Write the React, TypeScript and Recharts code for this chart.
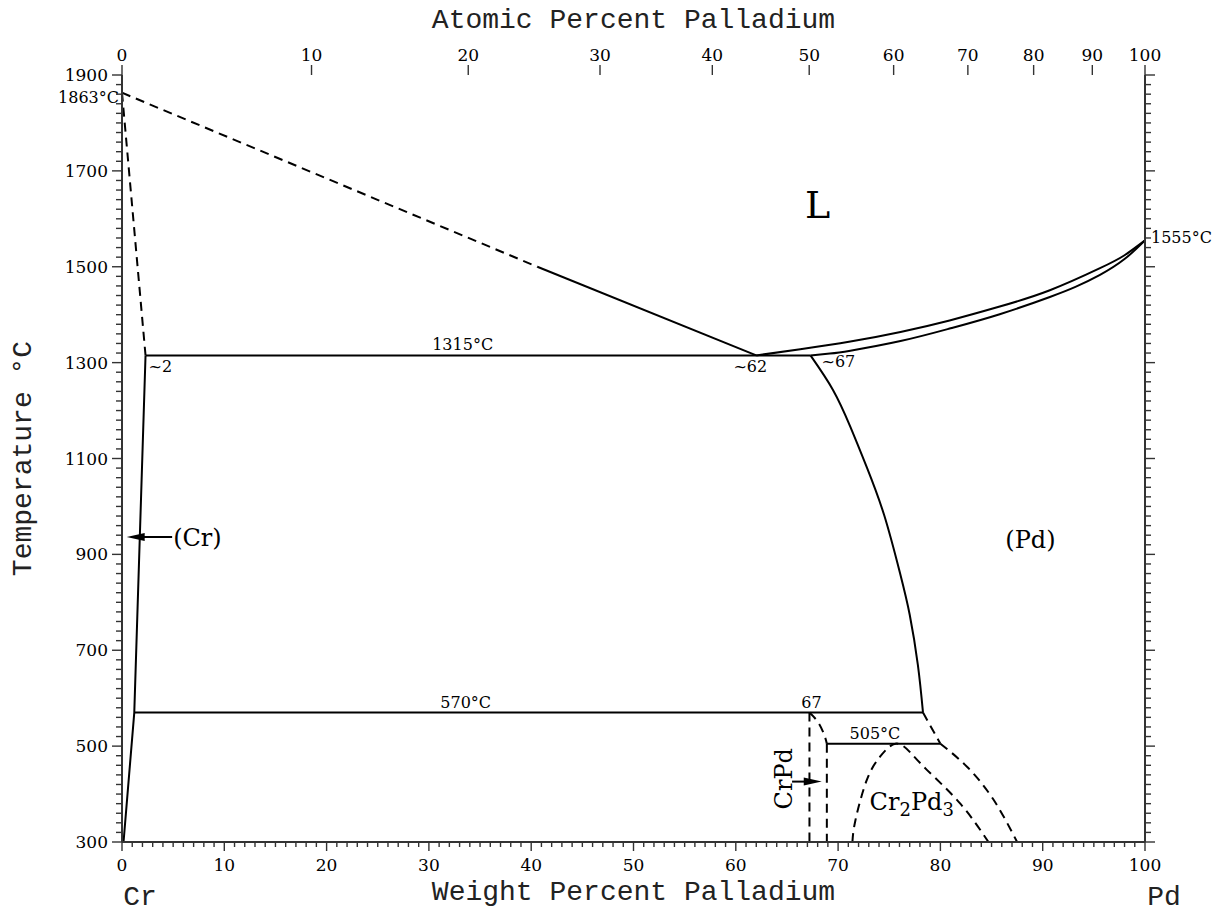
import { ComposedChart, Line, XAxis, YAxis, ReferenceDot } from "recharts";

const INK = "#000";
const AXIS = "#333";
const NUM_FONT = "'DejaVu Serif', serif";
const TITLE_FONT = "'Liberation Mono', monospace";

type Pt = { w: number; t: number };

// phase boundaries, wt.% Pd vs temperature (°C)
const liquidusCrDashed: Pt[] = [{ w: 0, t: 1863 }, { w: 40.6, t: 1500 }];
const liquidusCrSolid: Pt[] = [{ w: 40.6, t: 1500 }, { w: 62, t: 1315 }];
const crSolvusDashed: Pt[] = [{ w: 0, t: 1863 }, { w: 2.3, t: 1315 }];
const crSolvus: Pt[] = [{ w: 2.3, t: 1315 }, { w: 1.2, t: 570 }, { w: 0.15, t: 300 }];
const eutectic1315: Pt[] = [{ w: 2.3, t: 1315 }, { w: 67.3, t: 1315 }];
const liquidusPd: Pt[] = [
  { w: 62, t: 1315 }, { w: 66.3, t: 1328 }, { w: 71.2, t: 1344 }, { w: 76.1, t: 1364 },
  { w: 80.9, t: 1388 }, { w: 85.8, t: 1417 }, { w: 90.7, t: 1451 }, { w: 95.6, t: 1497 },
  { w: 98.0, t: 1524 }, { w: 100, t: 1555 },
];
const solidusPd: Pt[] = [
  { w: 67.3, t: 1315 }, { w: 69.2, t: 1319 }, { w: 71.2, t: 1325 }, { w: 76.1, t: 1345 },
  { w: 80.9, t: 1371 }, { w: 85.8, t: 1401 }, { w: 90.7, t: 1437 }, { w: 93.2, t: 1458 },
  { w: 95.6, t: 1483 }, { w: 98.0, t: 1516 }, { w: 100, t: 1555 },
];
const pdSolvus: Pt[] = [
  { w: 67.3, t: 1315 }, { w: 69.5, t: 1243 }, { w: 71.2, t: 1166 }, { w: 72.8, t: 1082 },
  { w: 74.5, t: 982 }, { w: 76.05, t: 861 }, { w: 77.0, t: 774 }, { w: 77.8, t: 669 },
  { w: 78.3, t: 570 },
];
const eutectoid570: Pt[] = [{ w: 1.2, t: 570 }, { w: 78.3, t: 570 }];
const pdSolvusLow: Pt[] = [{ w: 78.3, t: 570 }, { w: 80.0, t: 505 }];
const pdOrderBound: Pt[] = [{ w: 80.0, t: 505 }, { w: 82.6, t: 457 }, { w: 85.2, t: 388 }, { w: 87.5, t: 300 }];
const peritectoid505: Pt[] = [{ w: 68.9, t: 505 }, { w: 80.0, t: 505 }];
const crPdLeft: Pt[] = [{ w: 67.2, t: 570 }, { w: 67.2, t: 300 }];
const crPdCap: Pt[] = [{ w: 67.2, t: 570 }, { w: 68.1, t: 548 }, { w: 68.7, t: 520 }, { w: 68.9, t: 505 }];
const crPdRight: Pt[] = [{ w: 68.9, t: 505 }, { w: 68.9, t: 300 }];
const cr2pd3Dome: Pt[] = [
  { w: 71.4, t: 300 }, { w: 71.7, t: 346 }, { w: 72.8, t: 429 }, { w: 74.1, t: 478 },
  { w: 75.6, t: 505 }, { w: 77.0, t: 488 }, { w: 78.7, t: 450 }, { w: 81.9, t: 381 },
  { w: 84.7, t: 300 },
];
const arrowCr: Pt[] = [{ w: 4.9, t: 936 }, { w: 1.5, t: 936 }];
const arrowCrPd: Pt[] = [{ w: 65.5, t: 426 }, { w: 67.0, t: 426 }];

const segments: { data: Pt[]; dashed?: boolean; curve?: boolean }[] = [
  { data: liquidusCrDashed, dashed: true },
  { data: liquidusCrSolid },
  { data: crSolvusDashed, dashed: true },
  { data: crSolvus },
  { data: eutectic1315 },
  { data: liquidusPd, curve: true },
  { data: solidusPd, curve: true },
  { data: pdSolvus, curve: true },
  { data: eutectoid570 },
  { data: pdSolvusLow, dashed: true },
  { data: pdOrderBound, dashed: true, curve: true },
  { data: peritectoid505 },
  { data: crPdLeft, dashed: true },
  { data: crPdCap, dashed: true, curve: true },
  { data: crPdRight, dashed: true },
  { data: cr2pd3Dome, dashed: true, curve: true },
  { data: arrowCr },
  { data: arrowCrPd },
];

// arrow heads (tip position, direction)
const arrowHeads = [
  { w: 0.46, t: 936, dir: -1 },
  { w: 68.4, t: 426, dir: 1 },
];

type Note = { w: number; t: number; text: string; dx?: number; dy?: number; anchor?: "start" | "middle" | "end"; size?: number; rotate?: boolean };
const notes: Note[] = [
  { w: 0, t: 1863, text: "1863°C", dx: -3, dy: 10, anchor: "end" },
  { w: 100, t: 1555, text: "1555°C", dx: 6, dy: 3, anchor: "start" },
  { w: 33.3, t: 1315, text: "1315°C", dy: -5 },
  { w: 2.3, t: 1315, text: "~2", dx: 3, dy: 17, anchor: "start" },
  { w: 62, t: 1315, text: "~62", dx: -6, dy: 17 },
  { w: 67.3, t: 1315, text: "~67", dx: 11, dy: 12, anchor: "start" },
  { w: 33.6, t: 570, text: "570°C", dy: -5 },
  { w: 67.2, t: 570, text: "67", dx: 2, dy: -5 },
  { w: 73.6, t: 505, text: "505°C", dy: -5 },
  { w: 68.0, t: 1602, text: "L", size: 38 },
  { w: 5.0, t: 936, text: "(Cr)", dy: 9, anchor: "start", size: 24 },
  { w: 88.8, t: 930, text: "(Pd)", dy: 8, size: 24 },
  { w: 65.5, t: 432, text: "CrPd", size: 24, rotate: true },
];
const phaseLabelCr2Pd3 = { w: 77.2, t: 367 };

const wtTicks = Array.from({ length: 101 }, (_, i) => i);
const tempTicks = Array.from({ length: 81 }, (_, i) => 300 + i * 20);
const atLabels = [0, 10, 20, 30, 40, 50, 60, 70, 80, 90, 100];
const atToWt = (a: number) => (100 * a * 106.42) / (a * 106.42 + (100 - a) * 52.0);
const atTicks = atLabels.map(atToWt);

const numStyle = { fontFamily: NUM_FONT, fontSize: 17, fill: INK };
const titleStyle = { fontFamily: TITLE_FONT, fontSize: 28, fill: "#222" };

const BottomTick = ({ x, y, payload }: any) => {
  const v = Math.round(payload.value);
  const major = v % 10 === 0;
  return (
    <g>
      <line x1={x} y1={y} x2={x} y2={y + (major ? 9 : 5)} stroke={AXIS} strokeWidth={1.4} />
      {major && (
        <text x={x} y={y + 29} textAnchor="middle" style={numStyle}>{v}</text>
      )}
    </g>
  );
};

const TopInnerTick = ({ x, y, payload }: any) => {
  const v = Math.round(payload.value);
  const major = v % 10 === 0;
  return <line x1={x} y1={y} x2={x} y2={y + (major ? 10 : 5)} stroke={AXIS} strokeWidth={1.4} />;
};

const AtTick = ({ x, y, index }: any) => (
  <g>
    <line x1={x} y1={y} x2={x} y2={y - 10} stroke={AXIS} strokeWidth={1.4} />
    <text x={x} y={y - 14} textAnchor="middle" style={numStyle}>{atLabels[index]}</text>
  </g>
);

const LeftTick = ({ x, y, payload }: any) => {
  const v = payload.value;
  const major = (v - 300) % 200 === 0;
  return (
    <g>
      <line x1={x} y1={y} x2={x - (major ? 10 : 6)} y2={y} stroke={AXIS} strokeWidth={1.4} />
      {major && (
        <text x={x - 14} y={y + 6} textAnchor="end" style={numStyle}>{v}</text>
      )}
    </g>
  );
};

const RightTick = ({ x, y, payload }: any) => {
  const major = (payload.value - 300) % 200 === 0;
  return <line x1={x} y1={y} x2={x + (major ? 10 : 6)} y2={y} stroke={AXIS} strokeWidth={1.4} />;
};

const BottomTitle = ({ viewBox }: any) => {
  const { x, y, width } = viewBox;
  return (
    <g>
      <text x={x + width / 2} y={y + 58} textAnchor="middle" style={titleStyle}>Weight Percent Palladium</text>
      <text x={x + 18} y={y + 63} textAnchor="middle" style={titleStyle}>Cr</text>
      <text x={x + width + 19} y={y + 63} textAnchor="middle" style={titleStyle}>Pd</text>
    </g>
  );
};

const TopTitle = ({ viewBox }: any) => {
  const { x, y, width } = viewBox;
  return (
    <text x={x + width / 2} y={y - 2} textAnchor="middle" style={titleStyle}>Atomic Percent Palladium</text>
  );
};

const LeftTitle = ({ viewBox }: any) => {
  const { y, height } = viewBox;
  const cx = 31;
  const cy = y + height / 2;
  return (
    <text x={cx} y={cy} textAnchor="middle" transform={`rotate(-90, ${cx}, ${cy})`} style={titleStyle}>
      Temperature °C
    </text>
  );
};

const renderNote = (n: Note) => (p: any) => {
  const size = n.size ?? 16;
  const x = p.cx + (n.dx ?? 0);
  const y = p.cy + (n.dy ?? 0);
  return (
    <text
      x={x}
      y={y}
      textAnchor={n.anchor ?? "middle"}
      transform={n.rotate ? `rotate(-90, ${x}, ${y})` : undefined}
      style={{ fontFamily: NUM_FONT, fontSize: size, fill: INK }}
    >
      {n.text}
    </text>
  );
};

const renderCr2Pd3 = (p: any) => (
  <text x={p.cx} y={p.cy} textAnchor="middle" style={{ fontFamily: NUM_FONT, fontSize: 24, fill: INK }}>
    Cr<tspan dy={6} fontSize={18}>2</tspan>
    <tspan dy={-6}>Pd</tspan>
    <tspan dy={6} fontSize={18}>3</tspan>
  </text>
);

const renderHead = (dir: number) => (p: any) => {
  const { cx, cy } = p;
  const len = 18;
  return (
    <polygon
      points={`${cx},${cy} ${cx - dir * len},${cy - 4} ${cx - dir * len},${cy + 4}`}
      fill={INK}
    />
  );
};

export default function App() {
  return (
    <div style={{ position: "absolute", left: 0, top: 0, background: "#fff" }}>
      <ComposedChart width={1223} height={912} margin={{ top: 30, right: 0, bottom: 0, left: 62 }}>
        <XAxis
          xAxisId="wt"
          dataKey="w"
          type="number"
          domain={[0, 100]}
          allowDataOverflow
          ticks={wtTicks}
          interval={0}
          tickSize={0}
          tickMargin={0}
          tickLine={false}
          tick={<BottomTick />}
          axisLine={{ stroke: AXIS, strokeWidth: 2 }}
          height={70}
          label={BottomTitle}
        />
        <XAxis
          xAxisId="wtTop"
          dataKey="w"
          type="number"
          orientation="top"
          domain={[0, 100]}
          allowDataOverflow
          ticks={wtTicks}
          interval={0}
          tickSize={0}
          tickMargin={0}
          tickLine={false}
          tick={<TopInnerTick />}
          axisLine={{ stroke: AXIS, strokeWidth: 2 }}
          height={0}
        />
        <XAxis
          xAxisId="at"
          dataKey="w"
          type="number"
          orientation="top"
          domain={[0, 100]}
          allowDataOverflow
          ticks={atTicks}
          interval={0}
          tickSize={0}
          tickMargin={0}
          tickLine={false}
          tick={<AtTick />}
          axisLine={false}
          height={45}
          label={TopTitle}
        />
        <YAxis
          yAxisId="T"
          type="number"
          domain={[300, 1900]}
          allowDataOverflow
          ticks={tempTicks}
          interval={0}
          tickSize={0}
          tickMargin={0}
          tickLine={false}
          tick={<LeftTick />}
          axisLine={{ stroke: AXIS, strokeWidth: 2 }}
          width={60}
          label={LeftTitle}
        />
        <YAxis
          yAxisId="Tr"
          orientation="right"
          type="number"
          domain={[300, 1900]}
          allowDataOverflow
          ticks={tempTicks}
          interval={0}
          tickSize={0}
          tickMargin={0}
          tickLine={false}
          tick={<RightTick />}
          axisLine={{ stroke: AXIS, strokeWidth: 2 }}
          width={78}
        />
        {segments.map((s, i) => (
          <Line
            key={i}
            xAxisId="wt"
            yAxisId="T"
            data={s.data}
            dataKey="t"
            type={s.curve ? "natural" : "linear"}
            stroke={INK}
            strokeWidth={2}
            strokeDasharray={s.dashed ? "9 6" : undefined}
            dot={false}
            activeDot={false}
            isAnimationActive={false}
          />
        ))}
        {arrowHeads.map((a, i) => (
          <ReferenceDot key={`h${i}`} xAxisId="wt" yAxisId="T" x={a.w} y={a.t} r={0} ifOverflow="visible" shape={renderHead(a.dir)} />
        ))}
        {notes.map((n, i) => (
          <ReferenceDot key={`n${i}`} xAxisId="wt" yAxisId="T" x={n.w} y={n.t} r={0} ifOverflow="visible" shape={renderNote(n)} />
        ))}
        <ReferenceDot xAxisId="wt" yAxisId="T" x={phaseLabelCr2Pd3.w} y={phaseLabelCr2Pd3.t} r={0} ifOverflow="visible" shape={renderCr2Pd3} />
      </ComposedChart>
    </div>
  );
}
